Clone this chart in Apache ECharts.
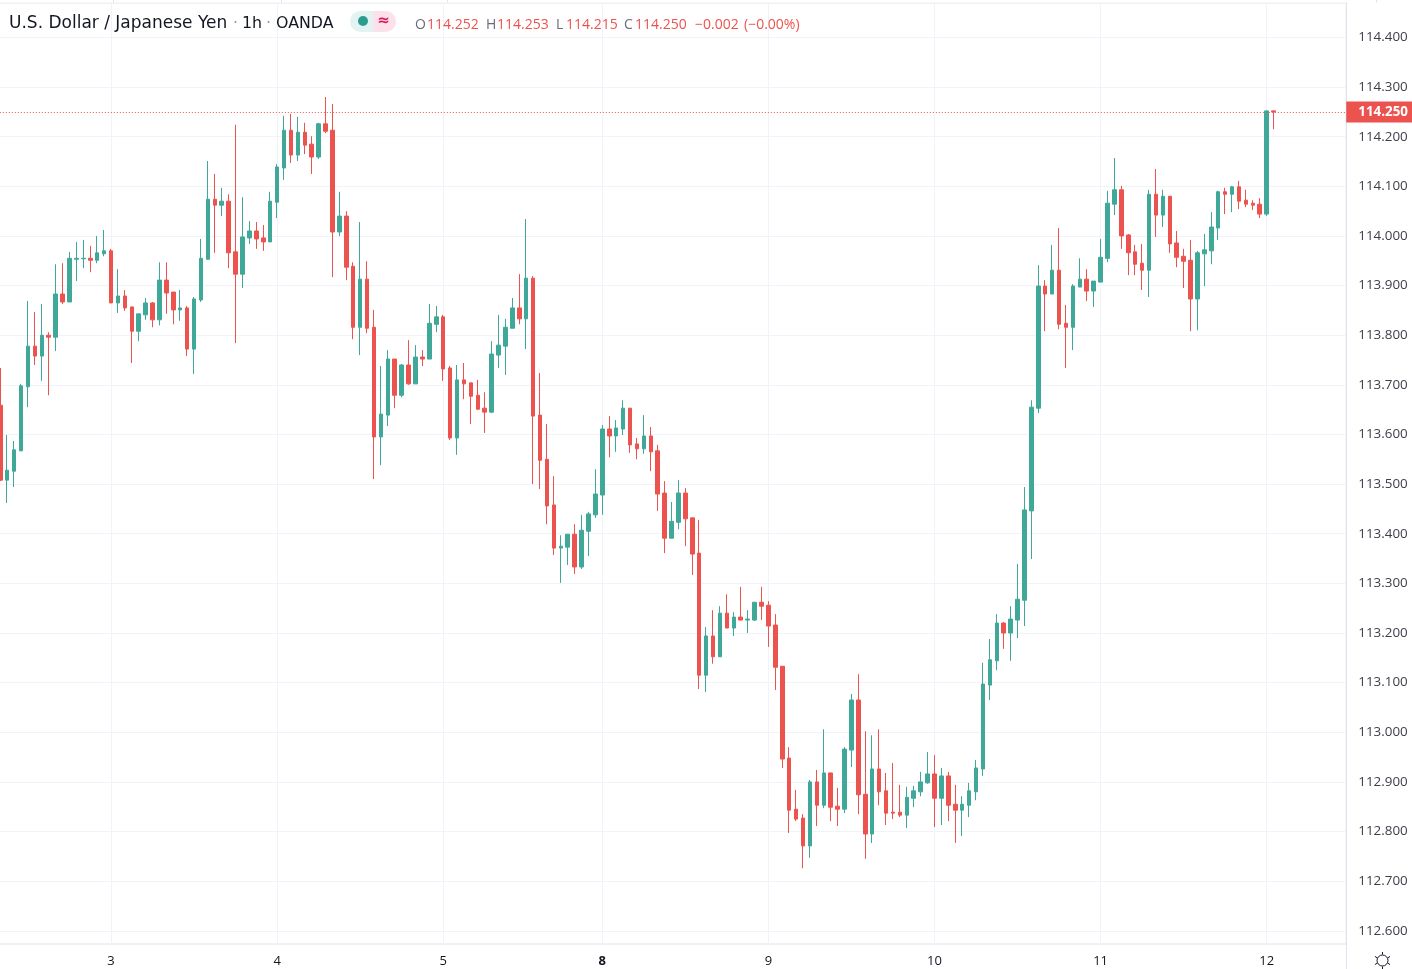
<!DOCTYPE html>
<html>
<head>
<meta charset="utf-8">
<style>html,body{margin:0;padding:0;background:#fff;overflow:hidden}#c{width:1412px;height:969px}</style>
<script src="https://cdn.jsdelivr.net/npm/echarts@6/dist/echarts.min.js"></script>
</head>
<body>
<div id="c"></div>
<script>
const opens = [113.659,113.508,113.526,113.567,113.696,113.778,113.758,113.800,113.796,113.883,113.867,113.953,113.954,113.955,113.951,113.964,113.970,113.865,113.879,113.857,113.808,113.841,113.865,113.831,113.911,113.887,113.851,113.855,113.772,113.871,113.953,114.074,114.062,114.070,113.968,113.923,113.996,114.010,113.996,113.988,114.068,114.137,114.213,114.163,114.209,114.185,114.159,114.226,114.213,114.008,114.040,113.939,113.816,113.913,113.816,113.595,113.639,113.752,113.679,113.740,113.702,113.756,113.752,113.822,113.837,113.734,113.593,113.710,113.704,113.679,113.653,113.645,113.760,113.778,113.814,113.855,113.833,113.915,113.639,113.550,113.458,113.371,113.373,113.399,113.333,113.405,113.438,113.478,113.611,113.597,113.611,113.653,113.581,113.571,113.597,113.567,113.482,113.391,113.423,113.482,113.432,113.361,113.115,113.194,113.152,113.240,113.210,113.232,113.226,113.226,113.262,113.256,113.216,113.133,112.948,112.845,112.827,112.771,112.900,112.853,112.918,112.851,112.845,112.964,113.065,112.875,112.795,112.926,112.882,112.839,112.839,112.833,112.867,112.880,112.898,112.916,112.867,112.912,112.855,112.843,112.853,112.880,112.926,113.095,113.144,113.220,113.200,113.226,113.266,113.446,113.653,113.899,113.883,113.931,113.824,113.816,113.897,113.913,113.889,113.907,113.955,114.064,114.093,114.002,113.968,113.945,113.931,114.084,114.042,114.080,113.986,113.959,113.951,113.873,113.964,113.970,114.016,114.089,114.084,114.099,114.072,114.066,114.064,114.044,114.252];
const closes = [113.508,113.528,113.569,113.698,113.778,113.758,113.800,113.796,113.883,113.867,113.955,113.955,113.955,113.951,113.966,113.970,113.865,113.879,113.855,113.808,113.843,113.865,113.831,113.911,113.885,113.851,113.855,113.772,113.873,113.955,114.074,114.062,114.070,113.966,113.923,113.998,114.010,113.994,113.988,114.070,114.139,114.213,114.163,114.209,114.183,114.159,114.226,114.211,114.008,114.040,113.937,113.816,113.913,113.814,113.595,113.641,113.752,113.679,113.740,113.702,113.756,113.752,113.824,113.837,113.732,113.593,113.710,113.702,113.677,113.651,113.645,113.762,113.780,113.816,113.855,113.833,113.915,113.637,113.548,113.456,113.371,113.375,113.399,113.333,113.407,113.440,113.480,113.611,113.597,113.613,113.653,113.579,113.571,113.597,113.565,113.480,113.391,113.425,113.482,113.430,113.359,113.115,113.194,113.152,113.240,113.210,113.232,113.226,113.228,113.262,113.254,113.214,113.131,112.946,112.843,112.825,112.771,112.900,112.853,112.918,112.849,112.845,112.966,113.065,112.874,112.795,112.926,112.880,112.837,112.837,112.833,112.869,112.882,112.900,112.916,112.867,112.912,112.853,112.843,112.855,112.882,112.928,113.097,113.146,113.220,113.200,113.228,113.268,113.448,113.655,113.899,113.883,113.931,113.822,113.816,113.899,113.913,113.889,113.909,113.957,114.066,114.093,114.000,113.966,113.943,113.931,114.084,114.042,114.080,113.984,113.957,113.949,113.873,113.966,113.972,114.018,114.089,114.084,114.099,114.070,114.064,114.062,114.044,114.252,114.250];
const lows = [113.506,113.462,113.494,113.567,113.655,113.740,113.708,113.679,113.768,113.863,113.867,113.909,113.935,113.927,113.945,113.959,113.865,113.845,113.849,113.744,113.788,113.831,113.816,113.820,113.843,113.822,113.829,113.758,113.722,113.867,113.953,113.966,114.040,113.935,113.784,113.895,113.984,113.974,113.970,113.988,114.036,114.113,114.147,114.151,114.165,114.125,114.155,114.207,113.917,114.000,113.911,113.792,113.760,113.804,113.510,113.538,113.617,113.653,113.675,113.700,113.702,113.738,113.752,113.806,113.708,113.589,113.559,113.671,113.621,113.649,113.603,113.643,113.734,113.720,113.814,113.822,113.772,113.500,113.490,113.419,113.357,113.301,113.337,113.319,113.329,113.355,113.432,113.438,113.554,113.565,113.599,113.563,113.550,113.561,113.526,113.446,113.361,113.391,113.409,113.375,113.317,113.087,113.081,113.138,113.152,113.210,113.194,113.226,113.200,113.224,113.226,113.172,113.085,112.928,112.797,112.821,112.726,112.747,112.811,112.847,112.821,112.811,112.837,112.930,112.835,112.745,112.777,112.853,112.813,112.825,112.829,112.807,112.849,112.871,112.896,112.809,112.813,112.821,112.777,112.791,112.829,112.863,112.912,113.065,113.125,113.168,113.144,113.190,113.214,113.349,113.643,113.808,113.883,113.812,113.734,113.770,113.897,113.869,113.857,113.907,113.947,114.042,113.974,113.921,113.921,113.891,113.877,113.998,114.018,113.966,113.937,113.895,113.808,113.810,113.899,113.943,113.992,114.044,114.048,114.054,114.058,114.052,114.036,114.040,114.215];
const highs = [113.734,113.599,113.587,113.702,113.869,113.847,113.863,113.806,113.943,113.945,113.968,113.988,113.992,113.980,114.000,114.012,113.974,113.933,113.891,113.857,113.843,113.875,113.867,113.947,113.947,113.887,113.891,113.859,113.877,113.994,114.151,114.125,114.097,114.084,114.224,114.078,114.030,114.028,114.022,114.089,114.145,114.242,114.246,114.240,114.228,114.201,114.228,114.280,114.266,114.089,114.050,113.947,114.028,113.949,113.851,113.738,113.770,113.752,113.742,113.790,113.780,113.770,113.863,113.859,113.841,113.738,113.740,113.744,113.704,113.710,113.685,113.788,113.841,113.833,113.875,113.923,114.034,113.919,113.724,113.621,113.516,113.397,113.399,113.419,113.438,113.444,113.530,113.619,113.637,113.629,113.669,113.653,113.593,113.639,113.615,113.579,113.506,113.464,113.508,113.492,113.432,113.428,113.212,113.246,113.254,113.278,113.242,113.293,113.246,113.262,113.293,113.264,113.238,113.133,112.970,112.884,112.835,112.904,112.924,113.006,112.918,112.888,112.970,113.077,113.117,113.002,112.994,113.006,112.918,112.938,112.894,112.890,112.892,112.920,112.960,112.954,112.928,112.920,112.894,112.871,112.898,112.944,113.140,113.188,113.238,113.222,113.254,113.339,113.494,113.669,113.941,113.911,113.982,114.016,113.861,113.903,113.955,113.933,113.909,113.994,114.091,114.157,114.101,114.004,113.982,113.984,114.093,114.135,114.093,114.080,114.010,113.974,113.992,113.970,114.004,114.048,114.091,114.097,114.101,114.111,114.093,114.072,114.076,114.253,114.253];
const dayIndex = [16,40,64,87,111,135,159,183];
const dayNames = ['3','4','5','8','9','10','11','12'];
const blankBars = 10;
const lastPrice = 114.25;
const headerTitle = 'U.S. Dollar / Japanese Yen';

const categories = opens.map(() => '');
dayIndex.forEach((ix, k) => { categories[ix] = dayNames[k]; });
for (let i = 0; i < blankBars; i++) categories.push('');
const candles = opens.map((o, i) => [o, closes[i], lows[i], highs[i]]);

const UP = '#3fa898', DOWN = '#ec534f', LINE = '#e0e3eb', GRID = '#f0f3fa', TXT = '#131722';
const gridX = { left: -3.16, width: 1349.4, outerBoundsMode: 'none', containLabel: false };
const isDay = (i, v) => v !== '';
const hdr = (x, y, text, fill, font) => ({ type: 'text', z: 50, style: { x, y, text, fill, font, textVerticalAlign: 'middle' } });
const f0 = '400 17px "DejaVu Sans"', f1 = '400 15.8px "DejaVu Sans"', f2 = '400 14px "Open Sans"';
const topTick = x => ({ type: 'rect', z: 41, shape: { x, y: 0, width: 1, height: 2.4 }, style: { fill: LINE } });

const chart = echarts.init(document.getElementById('c'), null, { renderer: 'canvas' });
chart.setOption({
  animation: false,
  backgroundColor: '#fff',
  grid: [
    Object.assign({ top: -12.2, bottom: -11.4, show: false }, gridX),
    Object.assign({ top: 3, height: 941, show: true, borderColor: LINE, borderWidth: 1, backgroundColor: 'transparent' }, gridX)
  ],
  xAxis: [
    { gridIndex: 0, type: 'category', data: categories, show: false },
    { gridIndex: 1, type: 'category', data: categories,
      axisLine: { show: false }, axisTick: { show: false },
      splitLine: { show: true, interval: isDay, alignWithLabel: true, lineStyle: { color: GRID, width: 1 } },
      axisLabel: { interval: isDay, margin: 11, color: TXT, fontFamily: 'Open Sans', fontSize: 13,
        formatter: v => v === '8' ? '{b|8}' : v,
        rich: { b: { fontWeight: 'bold', fontFamily: 'Open Sans', fontSize: 13, color: TXT } } } }
  ],
  yAxis: [
    { gridIndex: 0, type: 'value', position: 'right', min: 112.5, max: 114.5, interval: 0.1, scale: true,
      axisLine: { show: true, onZero: false, lineStyle: { color: LINE, width: 1 } }, axisTick: { show: false },
      splitLine: { show: true, lineStyle: { color: GRID, width: 1 } },
      axisLabel: { margin: 12, color: '#3c3f48', fontFamily: 'Open Sans', fontSize: 13.4, padding: [2, 0, 0, 0], formatter: v => v.toFixed(3) } },
    { gridIndex: 1, type: 'value', show: false, min: 0, max: 1 }
  ],
  series: [{
    type: 'candlestick',
    xAxisIndex: 0, yAxisIndex: 0,
    data: candles,
    barWidth: 4,
    silent: true,
    itemStyle: { color: UP, color0: DOWN, borderColor: UP, borderColor0: DOWN, borderWidth: 1 },
    markLine: {
      silent: true, symbol: 'none', animation: false,
      lineStyle: { type: [1, 2], color: DOWN, width: 1, opacity: 1 },
      label: { show: true, position: 'end', distance: 0, formatter: () => lastPrice.toFixed(3),
        backgroundColor: DOWN, color: '#fff', fontFamily: 'Open Sans', fontWeight: 'bold', fontSize: 13.4,
        padding: [4, 4, 2, 12], lineHeight: 15 },
      data: [{ yAxis: lastPrice }]
    }
  }],
  graphic: [
    { type: 'rect', z: 40, shape: { x: 0, y: 0, width: 1412, height: 2.4 }, style: { fill: '#fff' } },
    topTick(113), topTick(281), topTick(447), topTick(1376),
    hdr(9, 23.5, headerTitle, TXT, f0),
    hdr(233, 23.5, '·', '#9598a1', f1),
    hdr(242, 23.5, '1h', TXT, f1),
    hdr(266, 23.5, '·', '#9598a1', f1),
    hdr(276, 23.5, 'OANDA', TXT, f1),
    { type: 'rect', z: 50, shape: { x: 350, y: 11, width: 23, height: 21, r: [10.5, 0, 0, 10.5] }, style: { fill: '#e3f3f1' } },
    { type: 'rect', z: 50, shape: { x: 373, y: 11, width: 23, height: 21, r: [0, 10.5, 10.5, 0] }, style: { fill: '#fce0ea' } },
    { type: 'circle', z: 51, shape: { cx: 363, cy: 21, r: 5 }, style: { fill: '#2a9d8f' } },
    { type: 'text', z: 51, style: { x: 383.5, y: 21, text: '≈', fill: '#d81b60', font: 'bold 15px "DejaVu Sans"', textAlign: 'center', textVerticalAlign: 'middle' } },
    hdr(415, 25, 'O', '#6a6d78', f2), hdr(427, 25, '114.252', DOWN, f2),
    hdr(486, 25, 'H', '#6a6d78', f2), hdr(497, 25, '114.253', DOWN, f2),
    hdr(556, 25, 'L', '#6a6d78', f2), hdr(566, 25, '114.215', DOWN, f2),
    hdr(624, 25, 'C', '#6a6d78', f2), hdr(635, 25, '114.250', DOWN, f2),
    hdr(695, 25, '−0.002', DOWN, f2), hdr(744, 25, '(−0.00%)', DOWN, f2),
    { type: 'group', z: 50, x: 1382.5, y: 960.5, children: [
      { type: 'circle', shape: { r: 5.5 }, style: { fill: 'transparent', stroke: '#131722', lineWidth: 1 } },
      { type: 'line', shape: { x1: 0, y1: -8.5, x2: 0, y2: -6 }, style: { stroke: '#131722', lineWidth: 1 } },
      { type: 'line', shape: { x1: 0, y1: 8.5, x2: 0, y2: 6 }, style: { stroke: '#131722', lineWidth: 1 } },
      { type: 'line', shape: { x1: -7.5, y1: -4, x2: -5, y2: -2.5 }, style: { stroke: '#131722', lineWidth: 1 } },
      { type: 'line', shape: { x1: 7.5, y1: -4, x2: 5, y2: -2.5 }, style: { stroke: '#131722', lineWidth: 1 } },
      { type: 'line', shape: { x1: -7.5, y1: 4, x2: -5, y2: 2.5 }, style: { stroke: '#131722', lineWidth: 1 } },
      { type: 'line', shape: { x1: 7.5, y1: 4, x2: 5, y2: 2.5 }, style: { stroke: '#131722', lineWidth: 1 } }
    ] }
  ]
});
</script>
</body>
</html>
